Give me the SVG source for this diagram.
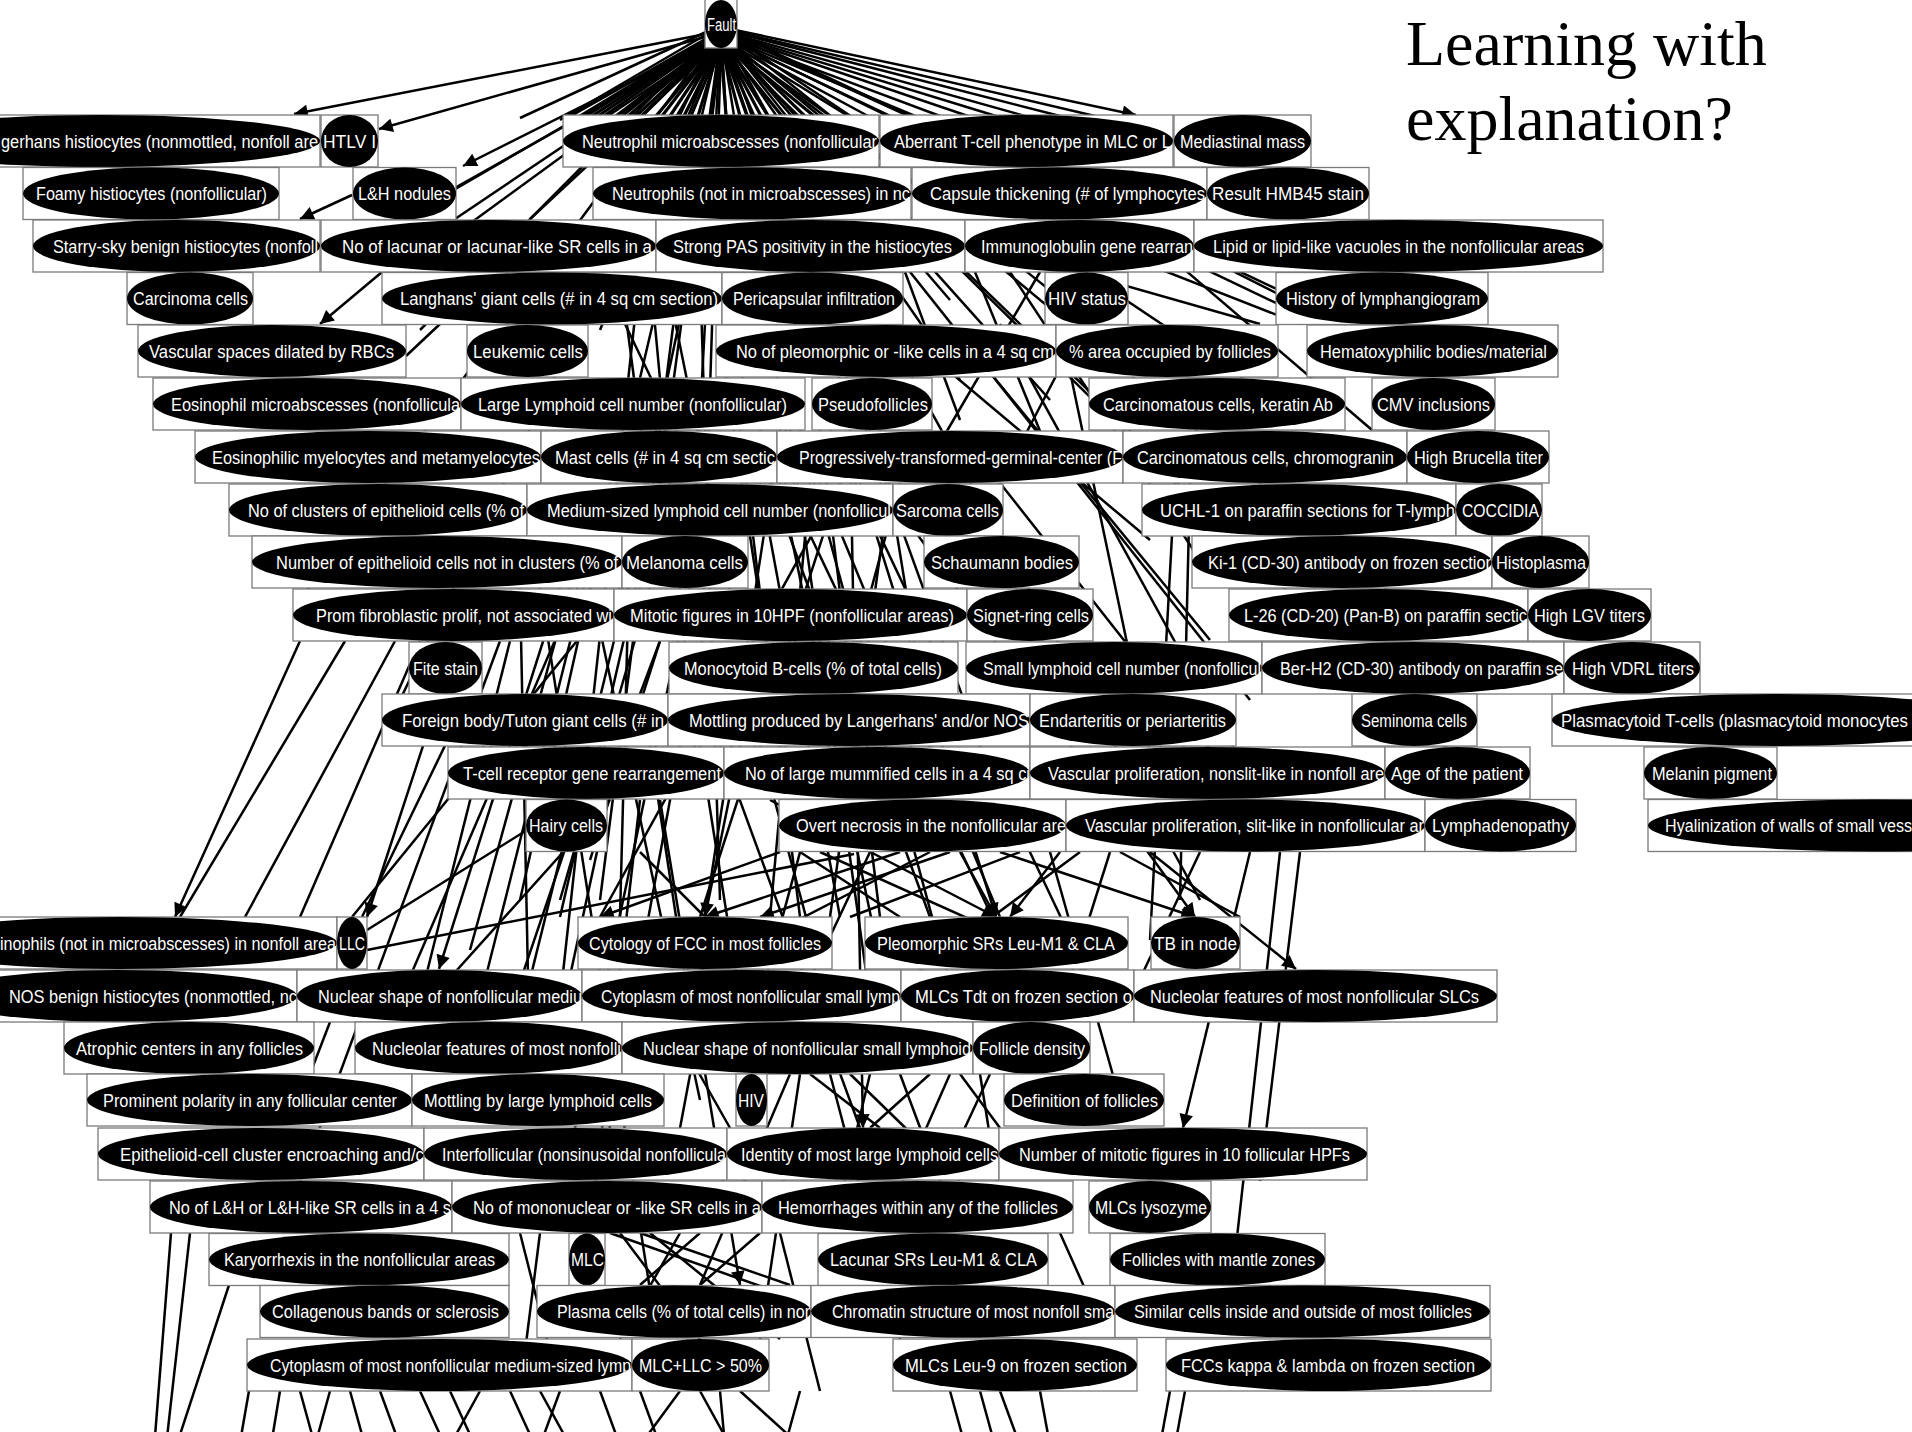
<svg xmlns="http://www.w3.org/2000/svg" width="1912" height="1432" viewBox="0 0 1912 1432">
<style>
rect{fill:#fff;stroke:#7a7a7a;stroke-width:1.3}
ellipse{fill:#000}
.n text{fill:#fff;font-family:"Liberation Sans",Arial,sans-serif;font-size:17.5px}
#edges line{stroke:#000;stroke-width:2.5;fill:none}
#edges .w{stroke-width:3.2}
#edges .a{marker-end:url(#ah)}
.ttl{font-family:"Liberation Serif","Times New Roman",serif;font-size:64px;fill:#000}
</style>
<defs>
<marker id="ah" viewBox="0 0 10 10" refX="10" refY="5" markerWidth="6" markerHeight="5.5" orient="auto" markerUnits="strokeWidth"><path d="M0,0L10,5L0,10z" fill="#000"/></marker>
</defs>
<rect x="0" y="0" width="1912" height="1432" style="fill:#fff;stroke:none"/>
<g id="edges">
<line class="a" x1="716" y1="32" x2="294" y2="114"/>
<line class="a" x1="712" y1="35" x2="379" y2="129"/>
<line class="a" x1="714" y1="40" x2="463" y2="166"/>
<line x1="712" y1="40" x2="350" y2="250"/>
<line x1="714" y1="42" x2="380" y2="230"/>
<line x1="716" y1="44" x2="420" y2="260"/>
<line x1="715" y1="44" x2="455" y2="219"/>
<line x1="716" y1="46" x2="530" y2="219"/>
<line x1="717" y1="46" x2="600" y2="330"/>
<line x1="718" y1="47" x2="640" y2="378"/>
<line x1="719" y1="47" x2="660" y2="480"/>
<line x1="720" y1="47" x2="690" y2="600"/>
<line x1="721" y1="48" x2="700" y2="700"/>
<line x1="722" y1="48" x2="745" y2="420"/>
<line x1="723" y1="48" x2="800" y2="520"/>
<line x1="724" y1="48" x2="840" y2="380"/>
<line x1="726" y1="47" x2="880" y2="300"/>
<line x1="728" y1="46" x2="960" y2="380"/>
<line x1="730" y1="44" x2="1000" y2="250"/>
<line x1="732" y1="40" x2="1060" y2="200"/>
<line class="a" x1="735" y1="30" x2="1136" y2="115"/>
<line x1="736" y1="34" x2="1300" y2="300"/>
<line x1="736" y1="37" x2="1200" y2="250"/>
<line x1="735" y1="40" x2="1100" y2="330"/>
<line x1="733" y1="44" x2="1400" y2="600"/>
<line x1="732" y1="45" x2="1500" y2="800"/>
<line x1="730" y1="46" x2="1200" y2="900"/>
<line x1="727" y1="47" x2="1000" y2="800"/>
<line x1="713" y1="46" x2="400" y2="700"/>
<line x1="710" y1="44" x2="300" y2="600"/>
<line x1="708" y1="40" x2="420" y2="330"/>
<line x1="728" y1="42" x2="950" y2="300"/>
<line x1="730" y1="43" x2="1050" y2="400"/>
<line x1="731" y1="44" x2="1150" y2="450"/>
<line x1="729" y1="44" x2="1250" y2="700"/>
<line x1="734" y1="38" x2="1350" y2="450"/>
<line class="w" x1="709" y1="38" x2="580" y2="116"/>
<line class="w" x1="710" y1="40" x2="592" y2="116"/>
<line class="w" x1="711" y1="42" x2="604" y2="116"/>
<line class="w" x1="712" y1="43" x2="616" y2="116"/>
<line class="w" x1="713" y1="44" x2="628" y2="116"/>
<line class="w" x1="714" y1="45" x2="642" y2="116"/>
<line class="w" x1="715" y1="46" x2="656" y2="116"/>
<line class="w" x1="716" y1="47" x2="670" y2="116"/>
<line class="w" x1="718" y1="48" x2="684" y2="116"/>
<line class="w" x1="719" y1="48" x2="698" y2="116"/>
<line class="w" x1="722" y1="48" x2="740" y2="116"/>
<line class="w" x1="724" y1="48" x2="754" y2="116"/>
<line class="w" x1="725" y1="47" x2="768" y2="116"/>
<line class="w" x1="726" y1="47" x2="782" y2="116"/>
<line class="w" x1="727" y1="46" x2="798" y2="116"/>
<line class="w" x1="728" y1="45" x2="814" y2="116"/>
<line x1="729" y1="44" x2="830" y2="116"/>
<line x1="730" y1="43" x2="848" y2="116"/>
<line x1="731" y1="42" x2="868" y2="116"/>
<line x1="732" y1="41" x2="890" y2="116"/>
<line x1="733" y1="40" x2="915" y2="116"/>
<line x1="734" y1="39" x2="940" y2="116"/>
<line x1="735" y1="37" x2="968" y2="116"/>
<line x1="735" y1="36" x2="996" y2="116"/>
<line x1="736" y1="35" x2="1025" y2="116"/>
<line x1="736" y1="33" x2="1060" y2="116"/>
<line x1="736" y1="32" x2="1095" y2="116"/>
<line x1="707" y1="34" x2="560" y2="120"/>
<line x1="706" y1="32" x2="520" y2="118"/>
<line class="w" x1="710" y1="41" x2="598" y2="116"/>
<line class="w" x1="712" y1="44" x2="622" y2="116"/>
<line class="w" x1="713" y1="45" x2="636" y2="116"/>
<line class="w" x1="715" y1="47" x2="662" y2="116"/>
<line class="w" x1="717" y1="48" x2="677" y2="116"/>
<line class="w" x1="719" y1="48" x2="691" y2="116"/>
<line class="w" x1="720" y1="48" x2="712" y2="116"/>
<line class="w" x1="721" y1="48" x2="726" y2="116"/>
<line class="w" x1="723" y1="48" x2="747" y2="116"/>
<line class="w" x1="725" y1="48" x2="761" y2="116"/>
<line class="w" x1="708" y1="38" x2="570" y2="116"/>
<line class="w" x1="709" y1="39" x2="586" y2="116"/>
<line class="a" x1="352" y1="195" x2="300" y2="219"/>
<line class="a" x1="382" y1="272" x2="320" y2="324"/>
<line x1="406" y1="356" x2="440" y2="324"/>
<line x1="650" y1="272" x2="690" y2="700"/>
<line x1="665" y1="272" x2="740" y2="640"/>
<line x1="680" y1="272" x2="600" y2="900"/>
<line x1="700" y1="272" x2="720" y2="900"/>
<line x1="710" y1="272" x2="790" y2="800"/>
<line x1="640" y1="272" x2="560" y2="1000"/>
<line x1="620" y1="272" x2="650" y2="500"/>
<line x1="600" y1="272" x2="700" y2="480"/>
<line x1="690" y1="272" x2="620" y2="600"/>
<line x1="900" y1="330" x2="1150" y2="540"/>
<line x1="1080" y1="330" x2="960" y2="560"/>
<line x1="950" y1="324" x2="1210" y2="640"/>
<line x1="1000" y1="324" x2="1240" y2="760"/>
<line x1="1060" y1="324" x2="1160" y2="800"/>
<line x1="1000" y1="483" x2="1250" y2="800"/>
<line x1="1190" y1="480" x2="1180" y2="900"/>
<line x1="1175" y1="480" x2="1150" y2="940"/>
<line x1="1100" y1="219" x2="1320" y2="324"/>
<line x1="1130" y1="219" x2="1290" y2="300"/>
<line x1="1060" y1="230" x2="1300" y2="324"/>
<line x1="1150" y1="240" x2="1372" y2="430"/>
<line x1="1000" y1="250" x2="1260" y2="324"/>
<line x1="905" y1="272" x2="960" y2="420"/>
<line x1="975" y1="272" x2="1060" y2="480"/>
<line x1="1040" y1="272" x2="930" y2="460"/>
<line x1="1010" y1="272" x2="1200" y2="560"/>
<line x1="760" y1="483" x2="840" y2="917"/>
<line x1="780" y1="483" x2="880" y2="960"/>
<line x1="800" y1="430" x2="960" y2="1020"/>
<line x1="820" y1="483" x2="1000" y2="917"/>
<line x1="840" y1="483" x2="700" y2="917"/>
<line class="a" x1="860" y1="483" x2="996" y2="917"/>
<line class="a" x1="880" y1="483" x2="1195" y2="917"/>
<line x1="900" y1="483" x2="760" y2="1000"/>
<line class="a" x1="780" y1="430" x2="705" y2="917"/>
<line x1="820" y1="430" x2="880" y2="917"/>
<line x1="760" y1="430" x2="1017" y2="969"/>
<line class="a" x1="850" y1="430" x2="863" y2="1128"/>
<line x1="870" y1="430" x2="600" y2="917"/>
<line x1="740" y1="430" x2="800" y2="917"/>
<line x1="790" y1="430" x2="870" y2="1000"/>
<line x1="810" y1="483" x2="770" y2="917"/>
<line x1="880" y1="430" x2="940" y2="800"/>
<line x1="890" y1="483" x2="830" y2="917"/>
<line x1="770" y1="483" x2="930" y2="917"/>
<line x1="830" y1="430" x2="1100" y2="1000"/>
<line x1="600" y1="536" x2="400" y2="1000"/>
<line x1="640" y1="536" x2="500" y2="1100"/>
<line x1="660" y1="483" x2="560" y2="917"/>
<line class="a" x1="560" y1="588" x2="439" y2="969"/>
<line x1="620" y1="588" x2="352" y2="917"/>
<line x1="500" y1="641" x2="300" y2="1181"/>
<line class="a" x1="700" y1="536" x2="575" y2="1128"/>
<line x1="520" y1="588" x2="530" y2="1074"/>
<line x1="580" y1="536" x2="700" y2="1100"/>
<line x1="540" y1="588" x2="650" y2="1290"/>
<line x1="610" y1="483" x2="480" y2="1000"/>
<line x1="650" y1="588" x2="560" y2="900"/>
<line x1="570" y1="588" x2="470" y2="950"/>
<line x1="630" y1="536" x2="620" y2="917"/>
<line x1="680" y1="588" x2="600" y2="800"/>
<line x1="590" y1="588" x2="520" y2="900"/>
<line x1="510" y1="641" x2="420" y2="1000"/>
<line x1="660" y1="641" x2="590" y2="860"/>
<line class="a" x1="300" y1="641" x2="175" y2="917"/>
<line x1="345" y1="641" x2="180" y2="917"/>
<line x1="395" y1="641" x2="245" y2="917"/>
<line x1="420" y1="641" x2="300" y2="917"/>
<line class="a" x1="440" y1="694" x2="367" y2="917"/>
<line x1="470" y1="694" x2="362" y2="917"/>
<line x1="527" y1="830" x2="367" y2="930"/>
<line x1="367" y1="950" x2="854" y2="854"/>
<line x1="620" y1="746" x2="560" y2="1022"/>
<line x1="650" y1="746" x2="700" y2="1074"/>
<line x1="680" y1="746" x2="600" y2="1180"/>
<line class="a" x1="700" y1="746" x2="752" y2="1074"/>
<line x1="720" y1="746" x2="860" y2="1128"/>
<line x1="740" y1="746" x2="705" y2="917"/>
<line x1="760" y1="746" x2="820" y2="969"/>
<line class="a" x1="640" y1="800" x2="590" y2="1233"/>
<line class="a" x1="660" y1="800" x2="740" y2="1285"/>
<line x1="610" y1="800" x2="430" y2="1000"/>
<line class="a" x1="770" y1="800" x2="996" y2="917"/>
<line x1="600" y1="746" x2="480" y2="1100"/>
<line class="a" x1="900" y1="852" x2="705" y2="917"/>
<line x1="930" y1="852" x2="600" y2="1022"/>
<line x1="960" y1="852" x2="996" y2="917"/>
<line class="a" x1="1000" y1="852" x2="1195" y2="917"/>
<line x1="1050" y1="852" x2="1120" y2="1100"/>
<line class="a" x1="1150" y1="852" x2="1296" y2="969"/>
<line x1="1200" y1="852" x2="1130" y2="1000"/>
<line class="a" x1="1250" y1="852" x2="1183" y2="1128"/>
<line x1="1280" y1="852" x2="1230" y2="1300"/>
<line x1="1300" y1="852" x2="1260" y2="1181"/>
<line x1="820" y1="852" x2="1150" y2="1000"/>
<line x1="870" y1="852" x2="800" y2="1000"/>
<line x1="1080" y1="852" x2="880" y2="1000"/>
<line x1="1110" y1="852" x2="1040" y2="1074"/>
<line class="a" x1="950" y1="852" x2="760" y2="917"/>
<line x1="1020" y1="852" x2="850" y2="917"/>
<line class="a" x1="1060" y1="852" x2="1010" y2="917"/>
<line x1="1120" y1="852" x2="1240" y2="917"/>
<line class="a" x1="780" y1="852" x2="600" y2="917"/>
<line x1="800" y1="852" x2="900" y2="917"/>
<line x1="640" y1="852" x2="705" y2="917"/>
<line x1="800" y1="1074" x2="760" y2="1339"/>
<line x1="830" y1="1074" x2="900" y2="1339"/>
<line x1="870" y1="1074" x2="820" y2="1285"/>
<line x1="900" y1="1074" x2="940" y2="1181"/>
<line x1="950" y1="1074" x2="880" y2="1233"/>
<line x1="980" y1="1074" x2="1000" y2="1200"/>
<line x1="790" y1="1074" x2="700" y2="1285"/>
<line x1="810" y1="1074" x2="880" y2="1128"/>
<line x1="850" y1="1074" x2="960" y2="1181"/>
<line x1="930" y1="1074" x2="870" y2="1128"/>
<line x1="960" y1="1074" x2="1000" y2="1128"/>
<line x1="990" y1="1074" x2="940" y2="1181"/>
<line x1="520" y1="1233" x2="560" y2="1391"/>
<line x1="540" y1="1233" x2="520" y2="1391"/>
<line x1="620" y1="1233" x2="700" y2="1339"/>
<line x1="650" y1="1233" x2="780" y2="1339"/>
<line x1="700" y1="1233" x2="640" y2="1285"/>
<line x1="780" y1="1233" x2="820" y2="1391"/>
<line x1="610" y1="1233" x2="800" y2="1300"/>
<line x1="640" y1="1233" x2="790" y2="1285"/>
<line x1="760" y1="1233" x2="700" y2="1285"/>
<line x1="680" y1="1233" x2="620" y2="1339"/>
<line x1="1060" y1="1233" x2="1090" y2="1300"/>
<line x1="700" y1="1022" x2="680" y2="1128"/>
<line x1="670" y1="1022" x2="730" y2="1128"/>
<line x1="330" y1="1022" x2="300" y2="1100"/>
<line x1="171" y1="1233" x2="150" y2="1500"/>
<line x1="190" y1="1233" x2="160" y2="1500"/>
<line x1="229" y1="1285" x2="175" y2="1450"/>
<line x1="258" y1="1339" x2="230" y2="1500"/>
<line x1="280" y1="1391" x2="262" y2="1500"/>
<line x1="300" y1="1391" x2="330" y2="1500"/>
<line x1="330" y1="1391" x2="300" y2="1500"/>
<line x1="350" y1="1391" x2="380" y2="1500"/>
<line x1="380" y1="1391" x2="420" y2="1500"/>
<line x1="420" y1="1391" x2="470" y2="1500"/>
<line x1="450" y1="1391" x2="500" y2="1500"/>
<line x1="480" y1="1391" x2="420" y2="1500"/>
<line x1="510" y1="1391" x2="560" y2="1500"/>
<line x1="540" y1="1391" x2="600" y2="1500"/>
<line x1="560" y1="1391" x2="520" y2="1500"/>
<line x1="600" y1="1391" x2="640" y2="1500"/>
<line x1="640" y1="1391" x2="680" y2="1500"/>
<line x1="680" y1="1391" x2="600" y2="1500"/>
<line x1="700" y1="1391" x2="760" y2="1500"/>
<line x1="720" y1="1391" x2="730" y2="1500"/>
<line x1="740" y1="1391" x2="860" y2="1500"/>
<line x1="950" y1="1391" x2="980" y2="1500"/>
<line x1="980" y1="1391" x2="1010" y2="1500"/>
<line x1="1000" y1="1391" x2="1040" y2="1500"/>
<line x1="1040" y1="1391" x2="1060" y2="1500"/>
<line x1="1170" y1="1391" x2="1150" y2="1500"/>
<line x1="1185" y1="1391" x2="1165" y2="1500"/>
<line x1="800" y1="1391" x2="770" y2="1500"/>
</g>
<g class="n">
<g id="n-fault"><rect x="705" y="-3" width="32" height="51"/><ellipse cx="721" cy="24" rx="16" ry="24"/><text x="707" y="30.5" textLength="29" lengthAdjust="spacingAndGlyphs">Fault</text></g>
<g id="n-a1"><rect x="-120" y="115" width="440" height="52"/><ellipse cx="100" cy="141" rx="220" ry="26"/><text x="1" y="147.5" textLength="317" lengthAdjust="spacingAndGlyphs">gerhans histiocytes (nonmottled, nonfoll are</text></g>
<g id="n-a2"><rect x="321" y="115" width="57" height="52"/><ellipse cx="349.5" cy="141" rx="28.5" ry="26"/><text x="323" y="147.5" textLength="53" lengthAdjust="spacingAndGlyphs">HTLV I</text></g>
<g id="n-a3"><rect x="563" y="115" width="316" height="52"/><ellipse cx="721" cy="141" rx="158" ry="26"/><text x="582" y="147.5" textLength="295" lengthAdjust="spacingAndGlyphs">Neutrophil microabscesses (nonfollicular</text></g>
<g id="n-a4"><rect x="880" y="115" width="293" height="52"/><ellipse cx="1026.5" cy="141" rx="146.5" ry="26"/><text x="894" y="147.5" textLength="277" lengthAdjust="spacingAndGlyphs">Aberrant T-cell phenotype in MLC or L</text></g>
<g id="n-a5"><rect x="1174" y="115" width="137" height="52"/><ellipse cx="1242.5" cy="141" rx="68.5" ry="26"/><text x="1180" y="147.5" textLength="125" lengthAdjust="spacingAndGlyphs">Mediastinal mass</text></g>
<g id="n-b1"><rect x="23" y="167.5" width="256" height="52"/><ellipse cx="151" cy="193.5" rx="128" ry="26"/><text x="36" y="200" textLength="231" lengthAdjust="spacingAndGlyphs">Foamy histiocytes (nonfollicular)</text></g>
<g id="n-b2"><rect x="353" y="167.5" width="103" height="52"/><ellipse cx="404.5" cy="193.5" rx="51.5" ry="26"/><text x="358" y="200" textLength="93" lengthAdjust="spacingAndGlyphs">L&amp;H nodules</text></g>
<g id="n-b3"><rect x="593" y="167.5" width="318" height="52"/><ellipse cx="752" cy="193.5" rx="159" ry="26"/><text x="612" y="200" textLength="298" lengthAdjust="spacingAndGlyphs">Neutrophils (not in microabscesses) in nc</text></g>
<g id="n-b4"><rect x="912" y="167.5" width="295" height="52"/><ellipse cx="1059.5" cy="193.5" rx="147.5" ry="26"/><text x="930" y="200" textLength="275" lengthAdjust="spacingAndGlyphs">Capsule thickening (# of lymphocytes</text></g>
<g id="n-b5"><rect x="1207" y="167.5" width="162" height="52"/><ellipse cx="1288" cy="193.5" rx="81" ry="26"/><text x="1212" y="200" textLength="152" lengthAdjust="spacingAndGlyphs">Result HMB45 stain</text></g>
<g id="n-c1"><rect x="33" y="220" width="287" height="52"/><ellipse cx="176.5" cy="246" rx="143.5" ry="26"/><text x="53" y="252.5" textLength="265" lengthAdjust="spacingAndGlyphs">Starry-sky benign histiocytes (nonfoll</text></g>
<g id="n-c2"><rect x="321" y="220" width="335" height="52"/><ellipse cx="488.5" cy="246" rx="167.5" ry="26"/><text x="342" y="252.5" textLength="310" lengthAdjust="spacingAndGlyphs">No of lacunar or lacunar-like SR cells in a</text></g>
<g id="n-c3"><rect x="656" y="220" width="309" height="52"/><ellipse cx="810.5" cy="246" rx="154.5" ry="26"/><text x="673" y="252.5" textLength="279" lengthAdjust="spacingAndGlyphs">Strong PAS positivity in the histiocytes</text></g>
<g id="n-c4"><rect x="965" y="220" width="229" height="52"/><ellipse cx="1079.5" cy="246" rx="114.5" ry="26"/><text x="981" y="252.5" textLength="212" lengthAdjust="spacingAndGlyphs">Immunoglobulin gene rearran</text></g>
<g id="n-c5"><rect x="1194" y="220" width="409" height="52"/><ellipse cx="1398.5" cy="246" rx="204.5" ry="26"/><text x="1213" y="252.5" textLength="371" lengthAdjust="spacingAndGlyphs">Lipid or lipid-like vacuoles in the nonfollicular areas</text></g>
<g id="n-d1"><rect x="127" y="272.5" width="126" height="52"/><ellipse cx="190" cy="298.5" rx="63" ry="26"/><text x="133" y="305" textLength="115" lengthAdjust="spacingAndGlyphs">Carcinoma cells</text></g>
<g id="n-d2"><rect x="382" y="272.5" width="340" height="52"/><ellipse cx="552" cy="298.5" rx="170" ry="26"/><text x="400" y="305" textLength="318" lengthAdjust="spacingAndGlyphs">Langhans' giant cells (# in 4 sq cm section)</text></g>
<g id="n-d3"><rect x="722" y="272.5" width="181" height="52"/><ellipse cx="812.5" cy="298.5" rx="90.5" ry="26"/><text x="733" y="305" textLength="162" lengthAdjust="spacingAndGlyphs">Pericapsular infiltration</text></g>
<g id="n-d4"><rect x="1045" y="272.5" width="83" height="52"/><ellipse cx="1086.5" cy="298.5" rx="41.5" ry="26"/><text x="1048" y="305" textLength="78" lengthAdjust="spacingAndGlyphs">HIV status</text></g>
<g id="n-d5"><rect x="1276" y="272.5" width="212" height="52"/><ellipse cx="1382" cy="298.5" rx="106" ry="26"/><text x="1286" y="305" textLength="194" lengthAdjust="spacingAndGlyphs">History of lymphangiogram</text></g>
<g id="n-e1"><rect x="138" y="325" width="268" height="52"/><ellipse cx="272" cy="351" rx="134" ry="26"/><text x="149" y="357.5" textLength="245" lengthAdjust="spacingAndGlyphs">Vascular spaces dilated by RBCs</text></g>
<g id="n-e2"><rect x="467" y="325" width="121" height="52"/><ellipse cx="527.5" cy="351" rx="60.5" ry="26"/><text x="473" y="357.5" textLength="110" lengthAdjust="spacingAndGlyphs">Leukemic cells</text></g>
<g id="n-e3"><rect x="716" y="325" width="340" height="52"/><ellipse cx="886" cy="351" rx="170" ry="26"/><text x="736" y="357.5" textLength="318" lengthAdjust="spacingAndGlyphs">No of pleomorphic or -like cells in a 4 sq cm</text></g>
<g id="n-e4"><rect x="1056" y="325" width="222" height="52"/><ellipse cx="1167" cy="351" rx="111" ry="26"/><text x="1069" y="357.5" textLength="202" lengthAdjust="spacingAndGlyphs">% area occupied by follicles</text></g>
<g id="n-e5"><rect x="1307" y="325" width="251" height="52"/><ellipse cx="1432.5" cy="351" rx="125.5" ry="26"/><text x="1320" y="357.5" textLength="227" lengthAdjust="spacingAndGlyphs">Hematoxyphilic bodies/material</text></g>
<g id="n-f1"><rect x="153" y="378" width="308" height="52"/><ellipse cx="307" cy="404" rx="154" ry="26"/><text x="171" y="410.5" textLength="289" lengthAdjust="spacingAndGlyphs">Eosinophil microabscesses (nonfollicula</text></g>
<g id="n-f2"><rect x="461" y="378" width="344" height="52"/><ellipse cx="633" cy="404" rx="172" ry="26"/><text x="478" y="410.5" textLength="309" lengthAdjust="spacingAndGlyphs">Large Lymphoid cell number (nonfollicular)</text></g>
<g id="n-f3"><rect x="812" y="378" width="120" height="52"/><ellipse cx="872" cy="404" rx="60" ry="26"/><text x="818" y="410.5" textLength="110" lengthAdjust="spacingAndGlyphs">Pseudofollicles</text></g>
<g id="n-f4"><rect x="1089" y="378" width="256" height="52"/><ellipse cx="1217" cy="404" rx="128" ry="26"/><text x="1103" y="410.5" textLength="230" lengthAdjust="spacingAndGlyphs">Carcinomatous cells, keratin Ab</text></g>
<g id="n-f5"><rect x="1372" y="378" width="123" height="52"/><ellipse cx="1433.5" cy="404" rx="61.5" ry="26"/><text x="1377" y="410.5" textLength="113" lengthAdjust="spacingAndGlyphs">CMV inclusions</text></g>
<g id="n-g1"><rect x="195" y="431" width="346" height="52"/><ellipse cx="368" cy="457" rx="173" ry="26"/><text x="212" y="463.5" textLength="328" lengthAdjust="spacingAndGlyphs">Eosinophilic myelocytes and metamyelocytes</text></g>
<g id="n-g2"><rect x="541" y="431" width="236" height="52"/><ellipse cx="659" cy="457" rx="118" ry="26"/><text x="555" y="463.5" textLength="220" lengthAdjust="spacingAndGlyphs">Mast cells (# in 4 sq cm sectic</text></g>
<g id="n-g3"><rect x="777" y="431" width="346" height="52"/><ellipse cx="950" cy="457" rx="173" ry="26"/><text x="799" y="463.5" textLength="323" lengthAdjust="spacingAndGlyphs">Progressively-transformed-germinal-center (F</text></g>
<g id="n-g4"><rect x="1123" y="431" width="284" height="52"/><ellipse cx="1265" cy="457" rx="142" ry="26"/><text x="1137" y="463.5" textLength="257" lengthAdjust="spacingAndGlyphs">Carcinomatous cells, chromogranin</text></g>
<g id="n-g5"><rect x="1407" y="431" width="142" height="52"/><ellipse cx="1478" cy="457" rx="71" ry="26"/><text x="1414" y="463.5" textLength="129" lengthAdjust="spacingAndGlyphs">High Brucella titer</text></g>
<g id="n-h1"><rect x="229" y="484" width="298" height="52"/><ellipse cx="378" cy="510" rx="149" ry="26"/><text x="248" y="516.5" textLength="276" lengthAdjust="spacingAndGlyphs">No of clusters of epithelioid cells (% of</text></g>
<g id="n-h2"><rect x="527" y="484" width="366" height="52"/><ellipse cx="710" cy="510" rx="183" ry="26"/><text x="547" y="516.5" textLength="344" lengthAdjust="spacingAndGlyphs">Medium-sized lymphoid cell number (nonfollicul</text></g>
<g id="n-h3"><rect x="893" y="484" width="110" height="52"/><ellipse cx="948" cy="510" rx="55" ry="26"/><text x="896" y="516.5" textLength="103" lengthAdjust="spacingAndGlyphs">Sarcoma cells</text></g>
<g id="n-h4"><rect x="1142" y="484" width="314" height="52"/><ellipse cx="1299" cy="510" rx="157" ry="26"/><text x="1160" y="516.5" textLength="295" lengthAdjust="spacingAndGlyphs">UCHL-1 on paraffin sections for T-lymph</text></g>
<g id="n-h5"><rect x="1456" y="484" width="86" height="52"/><ellipse cx="1499" cy="510" rx="43" ry="26"/><text x="1462" y="516.5" textLength="77" lengthAdjust="spacingAndGlyphs">COCCIDIA</text></g>
<g id="n-i1"><rect x="252" y="536" width="370" height="52"/><ellipse cx="437" cy="562" rx="185" ry="26"/><text x="276" y="568.5" textLength="342" lengthAdjust="spacingAndGlyphs">Number of epithelioid cells not in clusters (% of</text></g>
<g id="n-i2"><rect x="622" y="536" width="126" height="52"/><ellipse cx="685" cy="562" rx="63" ry="26"/><text x="626" y="568.5" textLength="117" lengthAdjust="spacingAndGlyphs">Melanoma cells</text></g>
<g id="n-i3"><rect x="924" y="536" width="155" height="52"/><ellipse cx="1001.5" cy="562" rx="77.5" ry="26"/><text x="931" y="568.5" textLength="142" lengthAdjust="spacingAndGlyphs">Schaumann bodies</text></g>
<g id="n-i4"><rect x="1192" y="536" width="300" height="52"/><ellipse cx="1342" cy="562" rx="150" ry="26"/><text x="1208" y="568.5" textLength="283" lengthAdjust="spacingAndGlyphs">Ki-1 (CD-30) antibody on frozen sectior</text></g>
<g id="n-i5"><rect x="1492" y="536" width="97" height="52"/><ellipse cx="1540.5" cy="562" rx="48.5" ry="26"/><text x="1496" y="568.5" textLength="90" lengthAdjust="spacingAndGlyphs">Histoplasma</text></g>
<g id="n-j1"><rect x="293" y="589" width="321" height="52"/><ellipse cx="453.5" cy="615" rx="160.5" ry="26"/><text x="316" y="621.5" textLength="296" lengthAdjust="spacingAndGlyphs">Prom fibroblastic prolif, not associated wi</text></g>
<g id="n-j2"><rect x="614" y="589" width="353" height="52"/><ellipse cx="790.5" cy="615" rx="176.5" ry="26"/><text x="630" y="621.5" textLength="324" lengthAdjust="spacingAndGlyphs">Mitotic figures in 10HPF (nonfollicular areas)</text></g>
<g id="n-j3"><rect x="967" y="589" width="126" height="52"/><ellipse cx="1030" cy="615" rx="63" ry="26"/><text x="973" y="621.5" textLength="116" lengthAdjust="spacingAndGlyphs">Signet-ring cells</text></g>
<g id="n-j4"><rect x="1229" y="589" width="299" height="52"/><ellipse cx="1378.5" cy="615" rx="149.5" ry="26"/><text x="1244" y="621.5" textLength="283" lengthAdjust="spacingAndGlyphs">L-26 (CD-20) (Pan-B) on paraffin sectic</text></g>
<g id="n-j5"><rect x="1528" y="589" width="123" height="52"/><ellipse cx="1589.5" cy="615" rx="61.5" ry="26"/><text x="1534" y="621.5" textLength="111" lengthAdjust="spacingAndGlyphs">High LGV titers</text></g>
<g id="n-k1"><rect x="409" y="642" width="73" height="52"/><ellipse cx="445.5" cy="668" rx="36.5" ry="26"/><text x="413" y="674.5" textLength="65" lengthAdjust="spacingAndGlyphs">Fite stain</text></g>
<g id="n-k2"><rect x="669" y="642" width="289" height="52"/><ellipse cx="813.5" cy="668" rx="144.5" ry="26"/><text x="684" y="674.5" textLength="258" lengthAdjust="spacingAndGlyphs">Monocytoid B-cells (% of total cells)</text></g>
<g id="n-k3"><rect x="966" y="642" width="296" height="52"/><ellipse cx="1114" cy="668" rx="148" ry="26"/><text x="983" y="674.5" textLength="278" lengthAdjust="spacingAndGlyphs">Small lymphoid cell number (nonfollicul</text></g>
<g id="n-k4"><rect x="1262" y="642" width="302" height="52"/><ellipse cx="1413" cy="668" rx="151" ry="26"/><text x="1280" y="674.5" textLength="283" lengthAdjust="spacingAndGlyphs">Ber-H2 (CD-30) antibody on paraffin se</text></g>
<g id="n-k5"><rect x="1564" y="642" width="136" height="52"/><ellipse cx="1632" cy="668" rx="68" ry="26"/><text x="1572" y="674.5" textLength="122" lengthAdjust="spacingAndGlyphs">High VDRL titers</text></g>
<g id="n-l1"><rect x="382" y="694" width="286" height="52"/><ellipse cx="525" cy="720" rx="143" ry="26"/><text x="402" y="726.5" textLength="262" lengthAdjust="spacingAndGlyphs">Foreign body/Tuton giant cells (# in</text></g>
<g id="n-l2"><rect x="668" y="694" width="362" height="52"/><ellipse cx="849" cy="720" rx="181" ry="26"/><text x="689" y="726.5" textLength="340" lengthAdjust="spacingAndGlyphs">Mottling produced by Langerhans' and/or NOS</text></g>
<g id="n-l3"><rect x="1030" y="694" width="206" height="52"/><ellipse cx="1133" cy="720" rx="103" ry="26"/><text x="1039" y="726.5" textLength="187" lengthAdjust="spacingAndGlyphs">Endarteritis or periarteritis</text></g>
<g id="n-l4"><rect x="1352" y="694" width="125" height="52"/><ellipse cx="1414.5" cy="720" rx="62.5" ry="26"/><text x="1361" y="726.5" textLength="106" lengthAdjust="spacingAndGlyphs">Seminoma cells</text></g>
<g id="n-l5"><rect x="1552" y="694" width="448" height="52"/><ellipse cx="1776" cy="720" rx="224" ry="26"/><text x="1561" y="726.5" textLength="347" lengthAdjust="spacingAndGlyphs">Plasmacytoid T-cells (plasmacytoid monocytes</text></g>
<g id="n-m1"><rect x="448" y="747" width="276" height="52"/><ellipse cx="586" cy="773" rx="138" ry="26"/><text x="463" y="779.5" textLength="258" lengthAdjust="spacingAndGlyphs">T-cell receptor gene rearrangement</text></g>
<g id="n-m2"><rect x="724" y="747" width="306" height="52"/><ellipse cx="877" cy="773" rx="153" ry="26"/><text x="745" y="779.5" textLength="285" lengthAdjust="spacingAndGlyphs">No of large mummified cells in a 4 sq ci</text></g>
<g id="n-m3"><rect x="1030" y="747" width="355" height="52"/><ellipse cx="1207.5" cy="773" rx="177.5" ry="26"/><text x="1048" y="779.5" textLength="336" lengthAdjust="spacingAndGlyphs">Vascular proliferation, nonslit-like in nonfoll are</text></g>
<g id="n-m4"><rect x="1385" y="747" width="145" height="52"/><ellipse cx="1457.5" cy="773" rx="72.5" ry="26"/><text x="1391" y="779.5" textLength="132" lengthAdjust="spacingAndGlyphs">Age of the patient</text></g>
<g id="n-m5"><rect x="1644" y="747" width="133" height="52"/><ellipse cx="1710.5" cy="773" rx="66.5" ry="26"/><text x="1652" y="779.5" textLength="120" lengthAdjust="spacingAndGlyphs">Melanin pigment</text></g>
<g id="n-n1"><rect x="526" y="799.5" width="81" height="52"/><ellipse cx="566.5" cy="825.5" rx="40.5" ry="26"/><text x="529" y="832" textLength="74" lengthAdjust="spacingAndGlyphs">Hairy cells</text></g>
<g id="n-n2"><rect x="779" y="799.5" width="287" height="52"/><ellipse cx="922.5" cy="825.5" rx="143.5" ry="26"/><text x="796" y="832" textLength="270" lengthAdjust="spacingAndGlyphs">Overt necrosis in the nonfollicular are</text></g>
<g id="n-n3"><rect x="1066" y="799.5" width="359" height="52"/><ellipse cx="1245.5" cy="825.5" rx="179.5" ry="26"/><text x="1085" y="832" textLength="339" lengthAdjust="spacingAndGlyphs">Vascular proliferation, slit-like in nonfollicular ar</text></g>
<g id="n-n4"><rect x="1425" y="799.5" width="151" height="52"/><ellipse cx="1500.5" cy="825.5" rx="75.5" ry="26"/><text x="1432" y="832" textLength="137" lengthAdjust="spacingAndGlyphs">Lymphadenopathy</text></g>
<g id="n-n5"><rect x="1648" y="799.5" width="452" height="52"/><ellipse cx="1874" cy="825.5" rx="226" ry="26"/><text x="1665" y="832" textLength="247" lengthAdjust="spacingAndGlyphs">Hyalinization of walls of small vess</text></g>
<g id="n-p1"><rect x="-100" y="917" width="437" height="52"/><ellipse cx="118.5" cy="943" rx="218.5" ry="26"/><text x="0" y="949.5" textLength="336" lengthAdjust="spacingAndGlyphs">inophils (not in microabscesses) in nonfoll area</text></g>
<g id="n-p2"><rect x="337" y="917" width="30" height="52"/><ellipse cx="352" cy="943" rx="15" ry="26"/><text x="339" y="949.5" textLength="26" lengthAdjust="spacingAndGlyphs">LLC</text></g>
<g id="n-p3"><rect x="578" y="917" width="254" height="52"/><ellipse cx="705" cy="943" rx="127" ry="26"/><text x="589" y="949.5" textLength="232" lengthAdjust="spacingAndGlyphs">Cytology of FCC in most follicles</text></g>
<g id="n-p4"><rect x="865" y="917" width="263" height="52"/><ellipse cx="996.5" cy="943" rx="131.5" ry="26"/><text x="877" y="949.5" textLength="238" lengthAdjust="spacingAndGlyphs">Pleomorphic SRs Leu-M1 &amp; CLA</text></g>
<g id="n-p5"><rect x="1151" y="917" width="89" height="52"/><ellipse cx="1195.5" cy="943" rx="44.5" ry="26"/><text x="1154" y="949.5" textLength="83" lengthAdjust="spacingAndGlyphs">TB in node</text></g>
<g id="n-q1"><rect x="-60" y="970" width="357" height="52"/><ellipse cx="118.5" cy="996" rx="178.5" ry="26"/><text x="9" y="1002.5" textLength="288" lengthAdjust="spacingAndGlyphs">NOS benign histiocytes (nonmottled, nc</text></g>
<g id="n-q2"><rect x="297" y="970" width="285" height="52"/><ellipse cx="439.5" cy="996" rx="142.5" ry="26"/><text x="318" y="1002.5" textLength="264" lengthAdjust="spacingAndGlyphs">Nuclear shape of nonfollicular mediu</text></g>
<g id="n-q3"><rect x="582" y="970" width="319" height="52"/><ellipse cx="741.5" cy="996" rx="159.5" ry="26"/><text x="601" y="1002.5" textLength="299" lengthAdjust="spacingAndGlyphs">Cytoplasm of most nonfollicular small lymp</text></g>
<g id="n-q4"><rect x="901" y="970" width="233" height="52"/><ellipse cx="1017.5" cy="996" rx="116.5" ry="26"/><text x="915" y="1002.5" textLength="217" lengthAdjust="spacingAndGlyphs">MLCs Tdt on frozen section o</text></g>
<g id="n-q5"><rect x="1134" y="970" width="363" height="52"/><ellipse cx="1315.5" cy="996" rx="181.5" ry="26"/><text x="1150" y="1002.5" textLength="329" lengthAdjust="spacingAndGlyphs">Nucleolar features of most nonfollicular SLCs</text></g>
<g id="n-r1"><rect x="64" y="1022" width="250" height="52"/><ellipse cx="189" cy="1048" rx="125" ry="26"/><text x="76" y="1054.5" textLength="227" lengthAdjust="spacingAndGlyphs">Atrophic centers in any follicles</text></g>
<g id="n-r2"><rect x="355" y="1022" width="267" height="52"/><ellipse cx="488.5" cy="1048" rx="133.5" ry="26"/><text x="372" y="1054.5" textLength="249" lengthAdjust="spacingAndGlyphs">Nucleolar features of most nonfolli</text></g>
<g id="n-r3"><rect x="622" y="1022" width="351" height="52"/><ellipse cx="797.5" cy="1048" rx="175.5" ry="26"/><text x="643" y="1054.5" textLength="328" lengthAdjust="spacingAndGlyphs">Nuclear shape of nonfollicular small lymphoid</text></g>
<g id="n-r4"><rect x="973" y="1022" width="117" height="52"/><ellipse cx="1031.5" cy="1048" rx="58.5" ry="26"/><text x="979" y="1054.5" textLength="106" lengthAdjust="spacingAndGlyphs">Follicle density</text></g>
<g id="n-s1"><rect x="87" y="1074" width="325" height="52"/><ellipse cx="249.5" cy="1100" rx="162.5" ry="26"/><text x="103" y="1106.5" textLength="294" lengthAdjust="spacingAndGlyphs">Prominent polarity in any follicular center</text></g>
<g id="n-s2"><rect x="412" y="1074" width="252" height="52"/><ellipse cx="538" cy="1100" rx="126" ry="26"/><text x="424" y="1106.5" textLength="228" lengthAdjust="spacingAndGlyphs">Mottling by large lymphoid cells</text></g>
<g id="n-s3"><rect x="736" y="1074" width="31" height="52"/><ellipse cx="751.5" cy="1100" rx="15.5" ry="26"/><text x="738" y="1106.5" textLength="26" lengthAdjust="spacingAndGlyphs">HIV</text></g>
<g id="n-s4"><rect x="1004" y="1074" width="160" height="52"/><ellipse cx="1084" cy="1100" rx="80" ry="26"/><text x="1011" y="1106.5" textLength="147" lengthAdjust="spacingAndGlyphs">Definition of follicles</text></g>
<g id="n-t1"><rect x="98" y="1128" width="326" height="52"/><ellipse cx="261" cy="1154" rx="163" ry="26"/><text x="120" y="1160.5" textLength="304" lengthAdjust="spacingAndGlyphs">Epithelioid-cell cluster encroaching and/c</text></g>
<g id="n-t2"><rect x="424" y="1128" width="303" height="52"/><ellipse cx="575.5" cy="1154" rx="151.5" ry="26"/><text x="442" y="1160.5" textLength="284" lengthAdjust="spacingAndGlyphs">Interfollicular (nonsinusoidal nonfollicula</text></g>
<g id="n-t3"><rect x="727" y="1128" width="272" height="52"/><ellipse cx="863" cy="1154" rx="136" ry="26"/><text x="741" y="1160.5" textLength="257" lengthAdjust="spacingAndGlyphs">Identity of most large lymphoid cells</text></g>
<g id="n-t4"><rect x="999" y="1128" width="368" height="52"/><ellipse cx="1183" cy="1154" rx="184" ry="26"/><text x="1019" y="1160.5" textLength="331" lengthAdjust="spacingAndGlyphs">Number of mitotic figures in 10 follicular HPFs</text></g>
<g id="n-u1"><rect x="150" y="1181" width="302" height="52"/><ellipse cx="301" cy="1207" rx="151" ry="26"/><text x="169" y="1213.5" textLength="282" lengthAdjust="spacingAndGlyphs">No of L&amp;H or L&amp;H-like SR cells in a 4 s</text></g>
<g id="n-u2"><rect x="452" y="1181" width="310" height="52"/><ellipse cx="607" cy="1207" rx="155" ry="26"/><text x="473" y="1213.5" textLength="288" lengthAdjust="spacingAndGlyphs">No of mononuclear or -like SR cells in a</text></g>
<g id="n-u3"><rect x="762" y="1181" width="311" height="52"/><ellipse cx="917.5" cy="1207" rx="155.5" ry="26"/><text x="778" y="1213.5" textLength="280" lengthAdjust="spacingAndGlyphs">Hemorrhages within any of the follicles</text></g>
<g id="n-u4"><rect x="1089" y="1181" width="122" height="52"/><ellipse cx="1150" cy="1207" rx="61" ry="26"/><text x="1095" y="1213.5" textLength="112" lengthAdjust="spacingAndGlyphs">MLCs lysozyme</text></g>
<g id="n-v1"><rect x="209" y="1233.5" width="300" height="52"/><ellipse cx="359" cy="1259.5" rx="150" ry="26"/><text x="224" y="1266" textLength="271" lengthAdjust="spacingAndGlyphs">Karyorrhexis in the nonfollicular areas</text></g>
<g id="n-v2"><rect x="569" y="1233.5" width="36" height="52"/><ellipse cx="587" cy="1259.5" rx="18" ry="26"/><text x="571" y="1266" textLength="33" lengthAdjust="spacingAndGlyphs">MLC</text></g>
<g id="n-v3"><rect x="818" y="1233.5" width="230" height="52"/><ellipse cx="933" cy="1259.5" rx="115" ry="26"/><text x="830" y="1266" textLength="207" lengthAdjust="spacingAndGlyphs">Lacunar SRs Leu-M1 &amp; CLA</text></g>
<g id="n-v4"><rect x="1110" y="1233.5" width="215" height="52"/><ellipse cx="1217.5" cy="1259.5" rx="107.5" ry="26"/><text x="1122" y="1266" textLength="193" lengthAdjust="spacingAndGlyphs">Follicles with mantle zones</text></g>
<g id="n-w1"><rect x="260" y="1285.5" width="249" height="52"/><ellipse cx="384.5" cy="1311.5" rx="124.5" ry="26"/><text x="272" y="1318" textLength="227" lengthAdjust="spacingAndGlyphs">Collagenous bands or sclerosis</text></g>
<g id="n-w2"><rect x="537" y="1285.5" width="274" height="52"/><ellipse cx="674" cy="1311.5" rx="137" ry="26"/><text x="557" y="1318" textLength="253" lengthAdjust="spacingAndGlyphs">Plasma cells (% of total cells) in nor</text></g>
<g id="n-w3"><rect x="811" y="1285.5" width="304" height="52"/><ellipse cx="963" cy="1311.5" rx="152" ry="26"/><text x="832" y="1318" textLength="282" lengthAdjust="spacingAndGlyphs">Chromatin structure of most nonfoll sma</text></g>
<g id="n-w4"><rect x="1115" y="1285.5" width="375" height="52"/><ellipse cx="1302.5" cy="1311.5" rx="187.5" ry="26"/><text x="1134" y="1318" textLength="338" lengthAdjust="spacingAndGlyphs">Similar cells inside and outside of most follicles</text></g>
<g id="n-x1"><rect x="247" y="1339" width="385" height="52"/><ellipse cx="439.5" cy="1365" rx="192.5" ry="26"/><text x="270" y="1371.5" textLength="361" lengthAdjust="spacingAndGlyphs">Cytoplasm of most nonfollicular medium-sized lymp</text></g>
<g id="n-x2"><rect x="632" y="1339" width="137" height="52"/><ellipse cx="700.5" cy="1365" rx="68.5" ry="26"/><text x="639" y="1371.5" textLength="123" lengthAdjust="spacingAndGlyphs">MLC+LLC &gt; 50%</text></g>
<g id="n-x3"><rect x="893" y="1339" width="244" height="52"/><ellipse cx="1015" cy="1365" rx="122" ry="26"/><text x="905" y="1371.5" textLength="222" lengthAdjust="spacingAndGlyphs">MLCs Leu-9 on frozen section</text></g>
<g id="n-x4"><rect x="1166" y="1339" width="325" height="52"/><ellipse cx="1328.5" cy="1365" rx="162.5" ry="26"/><text x="1181" y="1371.5" textLength="294" lengthAdjust="spacingAndGlyphs">FCCs kappa &amp; lambda on frozen section</text></g>
</g>
<g id="title"><text class="ttl" x="1406" y="65">Learning with</text><text class="ttl" x="1406" y="140">explanation?</text></g>
</svg>
